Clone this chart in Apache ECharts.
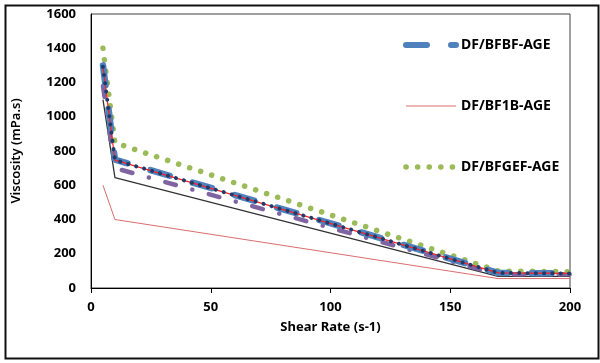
<!DOCTYPE html>
<html>
<head>
<meta charset="utf-8">
<script src="https://cdn.jsdelivr.net/npm/echarts@6/dist/echarts.min.js"></script>
<style>html,body{margin:0;padding:0;background:#fff;}#c{width:600px;height:363px;}</style>
</head>
<body>
<div id="c"></div>
<script>
// Data
const xTicks = [0, 50, 100, 150, 200];
const yTicks = [0, 200, 400, 600, 800, 1000, 1200, 1400, 1600];

const bfbfX = [5, 10, 170, 200];
const bfbfY = [1300, 750, 88, 85];

const bf1bX = [5, 10, 170, 200];
const bf1bY = [600, 400, 55, 55];

const bfgefX = [5, 10, 170, 200];
const bfgefY = [1400, 848, 99, 95];

const blackX = [5, 10, 170, 200];
const blackY = [1100, 645, 68, 68];

const purpleX = [5, 10, 170, 200];
const purpleY = [1180, 700, 80, 80];

const navyX = [5, 10, 170, 200];
const navyY = [1292, 747, 88, 85];

const redX = [5, 10, 170, 200];
const redY = [1292, 747, 88, 85];

function pairs(xs, ys) { return xs.map((x, i) => [x, ys[i]]); }

const FONT = 'Noto Sans';
const noSym = {color: 'rgba(0,0,0,0)', borderWidth: 0, opacity: 0};
const chart = echarts.init(document.getElementById('c'), null, {renderer: 'canvas'});
chart.setOption({
  animation: false,
  backgroundColor: '#fff',
  grid: {left: 91, right: 30, top: 14, bottom: 75, show: true, borderColor: '#404040', borderWidth: 1},
  graphic: [{
    type: 'rect', left: 3, top: 3, shape: {x: 0, y: 0, width: 593, height: 353},
    style: {fill: 'none', stroke: '#111', lineWidth: 2}, silent: true, z: 100
  }],
  legend: {
    orient: 'vertical', left: 403, top: 38, padding: 0, itemWidth: 50, itemHeight: 14, itemGap: 47,
    itemStyle: noSym,
    textStyle: {fontFamily: FONT, fontWeight: 'bold', fontSize: 14, color: '#000'},
    data: [
      {name: 'DF/BFBF-AGE', itemStyle: noSym, lineStyle: {width: 6, type: [21, 24], cap: 'round', color: '#4F81BD'}},
      {name: 'DF/BF1B-AGE', itemStyle: noSym, lineStyle: {width: 1, type: 'solid', color: '#DA6E6E'}},
      {name: 'DF/BFGEF-AGE', itemStyle: noSym, lineStyle: {width: 5.5, type: [0.1, 11.5], cap: 'round', color: '#9BBB59'}}
    ]
  },
  xAxis: {
    type: 'value', min: 0, max: 200, interval: 50,
    name: 'Shear Rate (s-1)', nameLocation: 'middle', nameGap: 33,
    nameTextStyle: {fontFamily: FONT, fontWeight: 'bold', fontSize: 13, color: '#000'},
    axisLine: {show: true, lineStyle: {color: '#000', width: 1}},
    axisTick: {show: true, inside: false, length: 5, lineStyle: {color: '#000'}},
    axisLabel: {fontFamily: FONT, fontWeight: 'bold', fontSize: 13, color: '#000', margin: 13,
      formatter: v => xTicks.includes(v) ? String(v) : ''},
    splitLine: {show: false}
  },
  yAxis: {
    type: 'value', min: 0, max: 1600, interval: 200,
    name: 'Viscosity (mPa.s)', nameLocation: 'middle', nameGap: 68,
    nameTextStyle: {fontFamily: FONT, fontWeight: 600, fontSize: 13, color: '#000'},
    axisLine: {show: true, lineStyle: {color: '#000', width: 1}},
    axisTick: {show: false},
    axisLabel: {fontFamily: FONT, fontWeight: 'bold', fontSize: 13, color: '#000', margin: 15,
      formatter: v => yTicks.includes(v) ? String(v) : ''},
    splitLine: {show: false}
  },
  series: [
    {name: 'Black', type: 'line', symbol: 'none', data: pairs(blackX, blackY),
      lineStyle: {color: '#333', width: 1.3}, z: 2},
    {name: 'DF/BF1B-AGE', type: 'line', symbol: 'none', data: pairs(bf1bX, bf1bY),
      lineStyle: {color: '#DA6E6E', width: 1}, itemStyle: {color: '#DA6E6E'}, z: 2},
    {name: 'Purple', type: 'line', symbol: 'none', data: pairs(purpleX, purpleY),
      lineStyle: {color: '#8064A2', width: 4.5, type: [11, 17, 0.1, 17], cap: 'round'}, z: 3},
    {name: 'DF/BFGEF-AGE', type: 'line', symbol: 'none', data: pairs(bfgefX, bfgefY),
      lineStyle: {color: '#9BBB59', width: 5.5, type: [0.1, 11.5], cap: 'round'}, itemStyle: {color: '#9BBB59'}, z: 3},
    {name: 'DF/BFBF-AGE', type: 'line', symbol: 'none', data: pairs(bfbfX, bfbfY),
      lineStyle: {color: '#4F81BD', width: 6.5, type: [20, 24], cap: 'round'}, itemStyle: {color: '#4F81BD'}, z: 4},
    {name: 'Red', type: 'line', symbol: 'none', data: pairs(redX, redY),
      lineStyle: {color: '#FF2020', width: 1.2}, z: 5},
    {name: 'Navy', type: 'line', symbol: 'none', data: pairs(navyX, navyY),
      lineStyle: {color: '#1F3B6B', width: 4, type: [0.1, 8.2], cap: 'round'}, z: 6}
  ]
});
</script>
</body>
</html>
